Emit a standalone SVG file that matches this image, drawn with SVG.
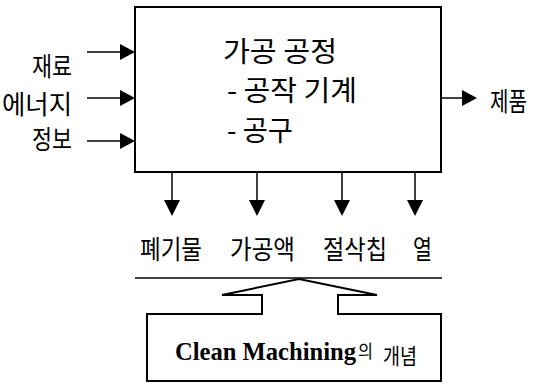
<svg xmlns="http://www.w3.org/2000/svg" width="538" height="386" viewBox="0 0 538 386">
<style>
.k{font-family:"Noto Sans CJK KR","Noto Sans",sans-serif;font-size:26px;fill:#000;dominant-baseline:central}
.m{font-size:28px}
.ln{stroke:#000;stroke-width:1.5;fill:none}
.bx{stroke:#000;stroke-width:2;fill:#fff}
.ah{fill:#000}
.en{font-family:"Liberation Serif","Times New Roman",serif;font-weight:bold;font-size:25px;fill:#000}
</style>
<rect width="538" height="386" fill="#fff"/>
<g id="process">
<rect class="bx" x="135" y="7" width="306" height="165"/>
<text class="k m" x="223" y="50" textLength="114" lengthAdjust="spacingAndGlyphs">가공 공정</text>
<text class="k m" x="227" y="89" textLength="130" lengthAdjust="spacingAndGlyphs">- 공작 기계</text>
<text class="k m" x="227" y="129" textLength="66" lengthAdjust="spacingAndGlyphs">- 공구</text>
</g>
<g id="inputs">
<text class="k" x="32" y="64" textLength="40" lengthAdjust="spacingAndGlyphs">재료</text>
<text class="k" x="2" y="102.5" textLength="70" lengthAdjust="spacingAndGlyphs">에너지</text>
<text class="k" x="32" y="137.5" textLength="40" lengthAdjust="spacingAndGlyphs">정보</text>
</g>
<g id="output">
<text class="k" x="490" y="99.5" textLength="37" lengthAdjust="spacingAndGlyphs">제품</text>
</g>
<g id="byproducts">
<text class="k" x="140" y="247" textLength="62" lengthAdjust="spacingAndGlyphs">폐기물</text>
<text class="k" x="230" y="247" textLength="65" lengthAdjust="spacingAndGlyphs">가공액</text>
<text class="k" x="323" y="247" textLength="64" lengthAdjust="spacingAndGlyphs">절삭칩</text>
<text class="k" x="413" y="247" textLength="19" lengthAdjust="spacingAndGlyphs">열</text>
</g>
<g id="concept">
<path class="bx" d="M147 314 H262 V295 H222 L299 279 L377 295 H338 V314 H441 V381 H147 Z"/>
<text class="en" x="175" y="360" textLength="181" lengthAdjust="spacingAndGlyphs">Clean Machining</text>
<text class="k" x="358" y="350" style="font-size:18px" textLength="15" lengthAdjust="spacingAndGlyphs">의</text>
<text class="k" x="383" y="354" style="font-size:22px" textLength="34" lengthAdjust="spacingAndGlyphs">개념</text>
</g>
<g id="connectors">
<line class="ln" x1="135" y1="278" x2="442" y2="278"/>
<line class="ln" x1="87" y1="52" x2="121" y2="52"/>
<polygon class="ah" points="120,44 135,52 120,60"/>
<line class="ln" x1="87" y1="98" x2="121" y2="98"/>
<polygon class="ah" points="120,90 135,98 120,106"/>
<line class="ln" x1="87" y1="141" x2="121" y2="141"/>
<polygon class="ah" points="120,133 135,141 120,149"/>
<line class="ln" x1="441" y1="98" x2="463" y2="98"/>
<polygon class="ah" points="462,90 477,98 462,106"/>
<line class="ln" x1="172" y1="172" x2="172" y2="201"/>
<polygon class="ah" points="164,200 180,200 172,216"/>
<line class="ln" x1="257" y1="172" x2="257" y2="201"/>
<polygon class="ah" points="249,200 265,200 257,216"/>
<line class="ln" x1="342" y1="172" x2="342" y2="201"/>
<polygon class="ah" points="334,200 350,200 342,216"/>
<line class="ln" x1="415" y1="172" x2="415" y2="201"/>
<polygon class="ah" points="407,200 423,200 415,216"/>
</g>
</svg>
